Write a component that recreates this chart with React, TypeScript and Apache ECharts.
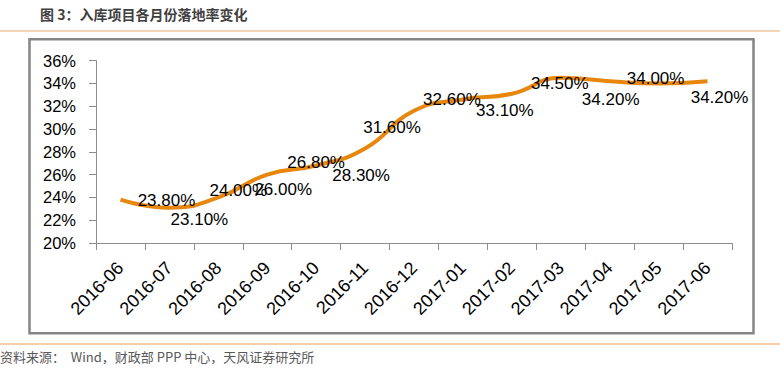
import React, { useEffect, useRef } from "react";
import * as echarts from "echarts";

const categories = [
  "2016-06", "2016-07", "2016-08", "2016-09", "2016-10", "2016-11", "2016-12",
  "2017-01", "2017-02", "2017-03", "2017-04", "2017-05", "2017-06",
];
const rates = [23.8, 23.1, 24.0, 26.0, 26.8, 28.3, 31.6, 32.6, 33.1, 34.5, 34.2, 34.0, 34.2];
const labelOffsets: [number, number][] = [
  [46, 1], [30, 12], [20, -7], [16, 15], [0, -3], [-4, 27], [-22, 17],
  [-11, 0], [-7, 17], [-1, 6], [1, 18], [-3, -5], [12, 16],
];
const titleText = "图 3：入库项目各月份落地率变化";
const sourceText = "资料来源：  Wind，财政部 PPP 中心，天风证券研究所";

export default function App() {
  const ref = useRef<HTMLDivElement>(null);
  useEffect(() => {
    if (!ref.current) return;
    const chart = echarts.init(ref.current, null, { renderer: "svg" });
    const font = "'Liberation Sans', Arial, sans-serif";
    chart.setOption({
      animation: false,
      backgroundColor: "#ffffff",
      grid: { left: 96, right: 48, top: 60.7, bottom: 131, containLabel: false },
      xAxis: {
        type: "category",
        data: categories,
        boundaryGap: true,
        axisLine: { show: true, lineStyle: { color: "#8c8c8c", width: 1 } },
        axisTick: { show: true, length: 7, alignWithLabel: false, lineStyle: { color: "#8c8c8c" } },
        axisLabel: {
          rotate: 45,
          interval: 0,
          margin: 22,
          color: "#000000",
          fontSize: 18,
          fontFamily: font,
        },
        splitLine: { show: false },
      },
      yAxis: {
        type: "value",
        min: 20,
        max: 36,
        interval: 2,
        axisLine: { show: true, lineStyle: { color: "#8c8c8c", width: 1 } },
        axisTick: { show: true, length: 7, lineStyle: { color: "#8c8c8c" } },
        axisLabel: {
          formatter: "{value}%",
          margin: 20,
          color: "#000000",
          fontSize: 16.5,
          fontFamily: font,
        },
        splitLine: { show: false },
      },
      series: [
        {
          type: "line",
          smooth: 0.5,
          symbol: "circle",
          symbolSize: 1,
          showSymbol: true,
          itemStyle: { color: "rgba(232,135,14,0)" },
          lineStyle: { color: "#E8870E", width: 4 },
          label: { show: true },
          data: rates.map((v, i) => ({
            value: v,
            label: {
              show: true,
              position: "inside",
              offset: labelOffsets[i],
              formatter: v.toFixed(2) + "%",
              color: "#000000",
              fontSize: 17,
              fontFamily: font,
            },
          })),
        },
      ],
      graphic: [
        {
          type: "text",
          left: 40,
          top: 7,
          style: {
            text: titleText,
            fill: "#3f3f3f",
            font: "bold 14px 'Noto Sans CJK SC', sans-serif",
          },
        },
        {
          type: "line",
          shape: { x1: 0, y1: 31, x2: 780, y2: 31 },
          style: { stroke: "#E9AE6E", lineWidth: 1 },
        },
        {
          type: "rect",
          shape: { x: 29.5, y: 39.3, width: 724, height: 294 },
          style: { fill: "none", stroke: "#858585", lineWidth: 2.5 },
        },
        {
          type: "line",
          shape: { x1: 0, y1: 344, x2: 780, y2: 344 },
          style: { stroke: "#E8995A", lineWidth: 1 },
        },
        {
          type: "text",
          left: 0,
          top: 350,
          style: {
            text: sourceText,
            fill: "#595959",
            font: "13px 'Noto Sans CJK SC', sans-serif",
          },
        },
      ],
    });
    return () => chart.dispose();
  }, []);
  return (
    <div
      ref={ref}
      style={{ position: "fixed", left: 0, top: 0, width: 780, height: 374 }}
    />
  );
}
